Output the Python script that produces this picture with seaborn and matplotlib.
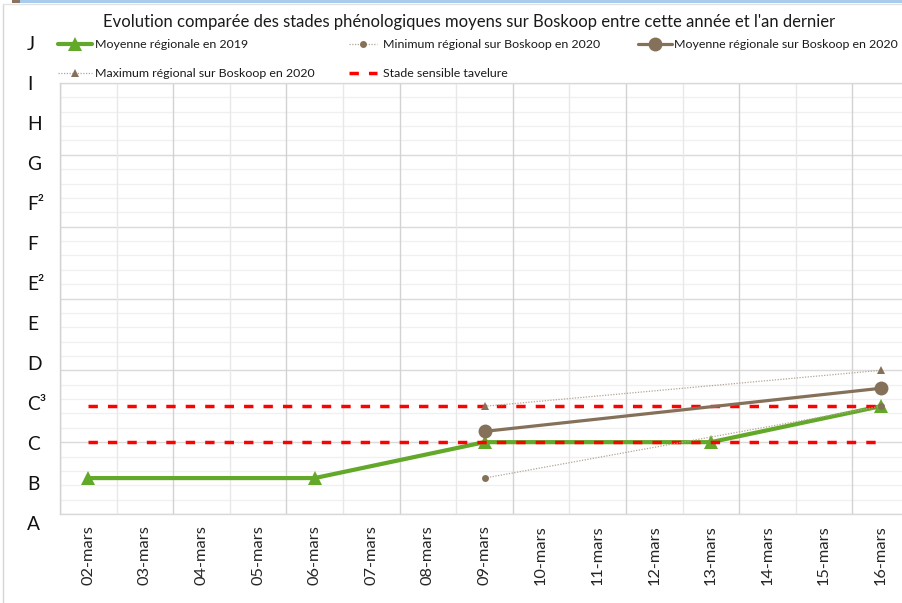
import matplotlib
matplotlib.use("Agg")
import matplotlib.pyplot as plt
import seaborn as sns
import numpy as np
import pandas as pd
from matplotlib.lines import Line2D
from matplotlib.patches import Rectangle

# ---------------- data ----------------
dates = ["02-mars", "03-mars", "04-mars", "05-mars", "06-mars", "07-mars", "08-mars",
         "09-mars", "10-mars", "11-mars", "12-mars", "13-mars", "14-mars", "15-mars", "16-mars"]
stage_labels = ["A", "B", "C", "C³", "D", "E", "E²", "F", "F²", "G", "H", "I", "J"]

moy2019_dates = ["02-mars", "06-mars", "09-mars", "13-mars", "16-mars"]
moy2019_vals = [0.5, 0.5, 1.0, 1.0, 1.5]

boskoop2020_dates = ["09-mars", "16-mars"]
min2020_vals = [0.5, 1.5]
moy2020_vals = [1.15, 1.75]
max2020_vals = [1.5, 2.0]

seuil_dates = ["02-mars", "16-mars"]
seuil_levels = [1.0, 1.5]

title = "Evolution comparée des stades phénologiques moyens sur Boskoop entre cette année et l'an dernier"
lab_moy2019 = "Moyenne régionale en 2019"
lab_min2020 = "Minimum régional sur Boskoop en 2020"
lab_moy2020 = "Moyenne régionale sur Boskoop en 2020"
lab_max2020 = "Maximum régional sur Boskoop en 2020"
lab_seuil = "Stade sensible tavelure"

# ---------------- style ----------------
sns.set_theme(style="white")
plt.rcParams["font.family"] = ["Lato", "DejaVu Sans"]

W, H = 902, 603
fig = plt.figure(figsize=(W / 100, H / 100), dpi=100)
fig.patch.set_facecolor("white")


def fx(px):
    return px / W


def fy(py):
    return 1 - py / H


pos = {d: i for i, d in enumerate(dates)}

ax = fig.add_axes([fx(60), fy(514), fx(909) - fx(60), fy(83) - fy(514)])
ax.set_facecolor("white")
ax.set_xlim(-0.5, len(dates) - 0.5)
ax.set_ylim(0, 6)

# grid
ax.set_yticks(np.arange(0, 6.01, 1))
ax.set_yticks(np.arange(0, 6.01, 0.2), minor=True)
ax.grid(which="major", axis="y", color="#dadada", lw=1)
ax.grid(which="minor", axis="y", color="#f0f0f0", lw=1)
ax.tick_params(axis="y", which="both", length=0, labelleft=False)
for k in range(len(dates) + 1):
    ax.axvline(k - 0.5, color="#d2d2d2" if k % 2 == 0 else "#e8e8e8", lw=1, zorder=0.6)
ax.set_axisbelow(True)
ax.spines["right"].set_visible(False)
ax.spines["top"].set_color("#d9d9d9")
ax.spines["bottom"].set_color("#d9d9d9")
ax.spines["left"].set_color("#d2d2d2")
for s in ["top", "bottom", "left"]:
    ax.spines[s].set_linewidth(1)

ax.set_xticks(range(len(dates)))
ax.set_xticklabels(dates, rotation=90, fontsize=11.8, color="#262626")
ax.tick_params(axis="x", length=0, pad=8)

# ---------------- series ----------------
green = "#62a829"
brown = "#85705a"
dotc = "#b3a595"

sns.lineplot(x=[pos[d] for d in moy2019_dates], y=moy2019_vals, ax=ax, color=green,
             lw=3.0, marker="^", markersize=10, markeredgecolor=green, markeredgewidth=0,
             label=lab_moy2019, legend=False, zorder=3)
h_moy2019 = ax.lines[-1]

sns.lineplot(x=[pos[d] for d in boskoop2020_dates], y=min2020_vals, ax=ax, color=dotc,
             lw=0.9, marker="o", markersize=5, markerfacecolor=brown, markeredgecolor=brown,
             markeredgewidth=0, label=lab_min2020, legend=False, zorder=4)
h_min = ax.lines[-1]
h_min.set_linestyle((0, (1, 1.2)))

sns.lineplot(x=[pos[d] for d in boskoop2020_dates], y=moy2020_vals, ax=ax, color=brown,
             lw=2.3, marker="o", markersize=10, markeredgecolor=brown, markeredgewidth=0,
             label=lab_moy2020, legend=False, zorder=4)
h_moy2020 = ax.lines[-1]

sns.lineplot(x=[pos[d] for d in boskoop2020_dates], y=max2020_vals, ax=ax, color=dotc,
             lw=0.9, marker="^", markersize=5.5, markerfacecolor=brown, markeredgecolor=brown,
             markeredgewidth=0, label=lab_max2020, legend=False, zorder=4)
h_max = ax.lines[-1]
h_max.set_linestyle((0, (1, 1.2)))

h_seuil = None
for lvl in seuil_levels:
    sns.lineplot(x=[pos[d] for d in seuil_dates], y=[lvl, lvl], ax=ax, color="#ff0000",
                 lw=2.5, label=lab_seuil if h_seuil is None else None, legend=False, zorder=3.5)
    ln = ax.lines[-1]
    ln.set_linestyle((0, (2.7, 2.9)))
    if h_seuil is None:
        h_seuil = ln

# ---------------- stage labels (left) ----------------
ax_lab = fig.add_axes([fx(27), fy(524), 0.01, fy(45) - fy(524)])
ax_lab.set_ylim(0, len(stage_labels) - 1)
ax_lab.axis("off")
for i, s in enumerate(stage_labels):
    ax_lab.text(0, i, s, transform=ax_lab.get_yaxis_transform(), ha="left", va="center",
                fontsize=13.8, color="#111111")

# ---------------- title ----------------
fig.text(fx(469), fy(22), title, ha="center", va="center", fontsize=11.95, color="#1a1a1a")

# ---------------- legends ----------------
leg_kw = dict(frameon=False, fontsize=8.9, borderpad=0, borderaxespad=0, labelspacing=1.45,
              loc="upper left", numpoints=1, labelcolor="#1a1a1a")
top_y = fy(39)
leg1 = fig.legend([h_moy2019, h_max], [lab_moy2019, lab_max2020],
                  bbox_to_anchor=(fx(58), top_y), handlelength=2.75, handletextpad=0.25, **leg_kw)
leg2 = fig.legend([h_min, h_seuil], [lab_min2020, lab_seuil],
                  bbox_to_anchor=(fx(349), top_y), handlelength=2.25, handletextpad=0.5, **leg_kw)
leg3 = fig.legend([h_moy2020], [lab_moy2020],
                  bbox_to_anchor=(fx(638), top_y), handlelength=2.75, handletextpad=0.2, **leg_kw)

# ---------------- frame decoration ----------------
fig.add_artist(Rectangle((fx(20), fy(2.6)), 1, 2.6 / H, transform=fig.transFigure,
                         color="#a9cbec", lw=0))
fig.add_artist(Rectangle((fx(12), fy(2.6)), 8 / W, 2.6 / H, transform=fig.transFigure,
                         color="#8a7360", lw=0))
fig.add_artist(Line2D([fx(2.5), fx(2.5)], [fy(3.5), 0], transform=fig.transFigure,
                      color="#d6d6d6", lw=1))
fig.add_artist(Line2D([fx(2.5), 1], [fy(3.5), fy(3.5)], transform=fig.transFigure,
                      color="#e2e2e2", lw=1))

fig.savefig("out.png", dpi=100, facecolor="white")
